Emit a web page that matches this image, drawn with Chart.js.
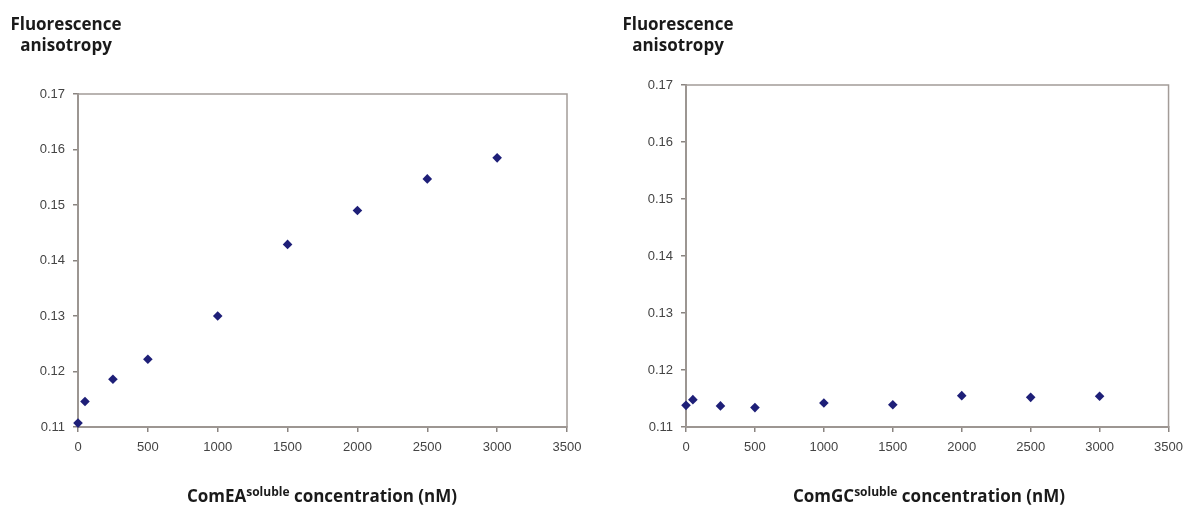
<!DOCTYPE html>
<html>
<head>
<meta charset="utf-8">
<script src="https://cdn.jsdelivr.net/npm/chart.js@4/dist/chart.umd.min.js"></script>
<style>
  body { margin: 0; background: #fff; }
  #wrap { position: relative; width: 1191px; height: 508px; overflow: hidden; }
  .panel { position: absolute; top: 0; height: 508px; }
  .ytitle, .xtitle {
    position: absolute;
    font-family: "Open Sans", "Noto Sans", sans-serif;
    font-weight: 700;
    font-size: 17px;
    color: #1a1a1a;
    text-align: center;
    line-height: 21px;
    white-space: nowrap;
  }
  .xtitle sup { font-size: 12px; line-height: 0; vertical-align: 6px; }
</style>
</head>
<body>
<div id="wrap">
  <div class="panel" style="left:0;width:595px"><canvas id="chartLeft"></canvas></div>
  <div class="panel" style="left:595px;width:596px"><canvas id="chartRight"></canvas></div>

  <div class="ytitle" style="left:-3px;top:13px;width:138px">Fluorescence<br>anisotropy</div>
  <div class="ytitle" style="left:609px;top:13px;width:138px">Fluorescence<br>anisotropy</div>

  <div class="xtitle" style="left:122px;top:485px;width:400px">ComEA<sup>soluble</sup> concentration (nM)</div>
  <div class="xtitle" style="left:729px;top:485px;width:400px">ComGC<sup>soluble</sup> concentration (nM)</div>
</div>

<script>
// concentrations in nM
const concentrations = [0, 50, 250, 500, 1000, 1500, 2000, 2500, 3000];

// fluorescence anisotropy
const comEAAnisotropy = [0.1107, 0.1146, 0.1186, 0.1222, 0.1300, 0.1429, 0.1490, 0.1547, 0.1585];
const comGCAnisotropy = [0.1138, 0.1148, 0.1137, 0.1134, 0.1142, 0.1139, 0.1155, 0.1152, 0.1154];

// axis ranges
const xRange = [0, 3500];
const xStep = 500;
const yRange = [0.11, 0.17];
const yStep = 0.01;

const axisColor = "#8a8480";
const tickFont = { family: "'Liberation Sans', Arial, sans-serif", size: 13 };

// draws the thin box round the plot area
const frame = {
  id: "frame",
  beforeDatasetsDraw(chart) {
    const a = chart.chartArea;
    const ctx = chart.ctx;
    ctx.save();
    ctx.strokeStyle = "#a39c98";
    ctx.lineWidth = 1.5;
    ctx.strokeRect(a.left, a.top, a.right - a.left, a.bottom - a.top);
    ctx.restore();
  }
};

function makeChart(id, values, yWidth, top, right) {
  const points = concentrations.map((c, i) => ({ x: c, y: values[i] }));

  return new Chart(document.getElementById(id), {
    type: "scatter",
    data: {
      datasets: [
        {
          data: points,
          pointStyle: "rectRot",
          pointRadius: 4.8,
          pointHoverRadius: 4.8,
          backgroundColor: "#1e1f78",
          borderColor: "#1e1f78",
          borderWidth: 0,
          clip: false
        }
      ]
    },
    options: {
      responsive: false,
      animation: false,
      events: [],
      layout: { padding: { left: 0, top: top, right: right, bottom: 0 } },
      plugins: {
        legend: { display: false },
        tooltip: { enabled: false }
      },
      scales: {
        x: {
          type: "linear",
          min: xRange[0],
          max: xRange[1],
          ticks: {
            stepSize: xStep,
            color: "#444",
            font: tickFont,
            padding: 8,
            maxRotation: 0,
            callback: v => String(v)
          },
          grid: {
            drawOnChartArea: false,
            drawTicks: true,
            tickLength: 5,
            color: axisColor,
            lineWidth: 1.5
          },
          border: { color: axisColor, width: 2 },
          afterFit(scale) { scale.height = 81; }
        },
        y: {
          type: "linear",
          min: yRange[0],
          max: yRange[1],
          ticks: {
            stepSize: yStep,
            color: "#444",
            font: tickFont,
            padding: 8,
            callback: v => v.toFixed(2)
          },
          grid: {
            drawOnChartArea: false,
            drawTicks: true,
            tickLength: 5,
            color: axisColor,
            lineWidth: 1.5
          },
          border: { color: axisColor, width: 2 },
          afterFit(scale) { scale.width = yWidth; }
        }
      }
    },
    plugins: [frame]
  });
}

function sizeCanvas(id, w, h) {
  const c = document.getElementById(id);
  c.width = w;
  c.height = h;
  c.style.width = w + "px";
  c.style.height = h + "px";
}

sizeCanvas("chartLeft", 595, 508);
sizeCanvas("chartRight", 596, 508);

makeChart("chartLeft", comEAAnisotropy, 78, 94, 28);
makeChart("chartRight", comGCAnisotropy, 91, 85, 15);
</script>
</body>
</html>
